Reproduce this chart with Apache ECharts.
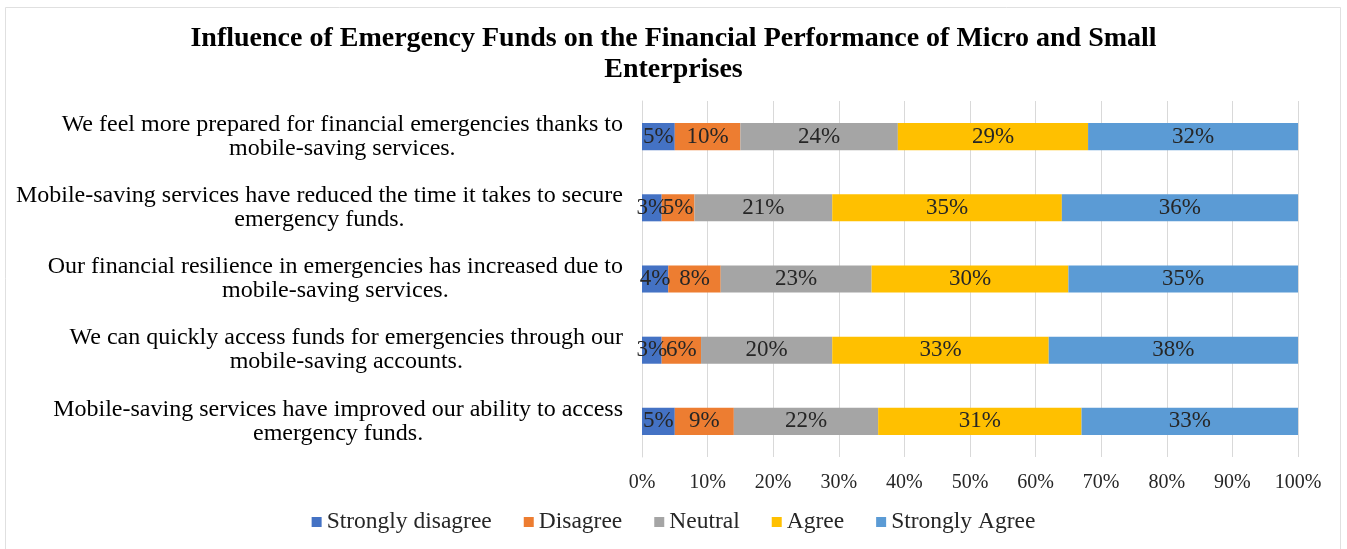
<!DOCTYPE html>
<html>
<head>
<meta charset="utf-8">
<script src="https://cdn.jsdelivr.net/npm/echarts@6/dist/echarts.min.js"></script>
<style>html,body{margin:0;padding:0;background:#fff;}#c{width:1347px;height:549px;}</style>
</head>
<body>
<div id="c"></div>
<script>
var titleText = 'Influence of Emergency Funds on the Financial Performance of Micro and Small\nEnterprises';
var categories = [
  'We feel more prepared for financial emergencies thanks to\nmobile-saving services.',
  'Mobile-saving services have reduced the time it takes to secure\nemergency funds.',
  'Our financial resilience in emergencies has increased due to\nmobile-saving services.',
  'We can quickly access funds for emergencies through our\nmobile-saving accounts.',
  'Mobile-saving services have improved our ability to access\nemergency funds.'
];
var seriesNames = ['Strongly disagree', 'Disagree', 'Neutral', 'Agree', 'Strongly Agree'];
var stronglyDisagree = [5, 3, 4, 3, 5];
var disagree = [10, 5, 8, 6, 9];
var neutral = [24, 21, 23, 20, 22];
var agree = [29, 35, 30, 33, 31];
var stronglyAgree = [32, 36, 35, 38, 33];
var colors = ['#4472C4', '#ED7D31', '#A5A5A5', '#FFC000', '#5B9BD5'];

var values = [stronglyDisagree, disagree, neutral, agree, stronglyAgree];
var serif = '"Liberation Serif", "Times New Roman", serif';

var chart = echarts.init(document.getElementById('c'), null, {renderer: 'canvas'});
var series = seriesNames.map(function (n, i) {
  return {
    name: n,
    type: 'bar',
    stack: 'total',
    data: values[i],
    barWidth: '38%',
    itemStyle: {color: colors[i]},
    label: {
      show: true,
      position: 'inside',
      formatter: '{c}%',
      color: '#262626',
      fontFamily: serif,
      fontSize: 23
    },
    emphasis: {disabled: true}
  };
});

chart.setOption({
  animation: false,
  backgroundColor: '#fff',
  title: {
    text: titleText,
    left: 'center',
    top: 18,
    textStyle: {fontFamily: serif, fontWeight: 'bold', fontSize: 28, color: '#000', lineHeight: 31}
  },
  legend: {
    bottom: 10,
    left: 'center',
    itemWidth: 10,
    itemHeight: 10,
    itemGap: 32,
    icon: 'rect',
    textStyle: {fontFamily: serif, fontSize: 23.5, color: '#262626'},
    data: seriesNames
  },
  grid: {left: 642, right: 49, top: 101, bottom: 92, containLabel: false},
  xAxis: {
    type: 'value',
    min: 0,
    max: 100,
    interval: 10,
    axisLine: {show: false},
    axisTick: {show: false},
    splitLine: {lineStyle: {color: '#d9d9d9', width: 1}},
    axisLabel: {formatter: '{value}%', fontFamily: serif, fontSize: 20, color: '#262626', margin: 16}
  },
  yAxis: {
    type: 'category',
    inverse: true,
    data: categories,
    axisLine: {show: true, lineStyle: {color: '#d9d9d9'}},
    axisTick: {show: false},
    axisLabel: {
      margin: 19,
      formatter: function (v) {
        return v.split('\n').map(function (l) { return '{c|' + l + '}'; }).join('\n');
      },
      rich: {
        c: {align: 'center', fontFamily: serif, fontSize: 24, color: '#000', lineHeight: 24}
      }
    }
  },
  series: series,
  graphic: [{
    type: 'rect',
    shape: {x: 5.5, y: 7.5, width: 1335, height: 545},
    style: {fill: 'none', stroke: '#e0e0e0', lineWidth: 1},
    silent: true
  }]
});
</script>
</body>
</html>
